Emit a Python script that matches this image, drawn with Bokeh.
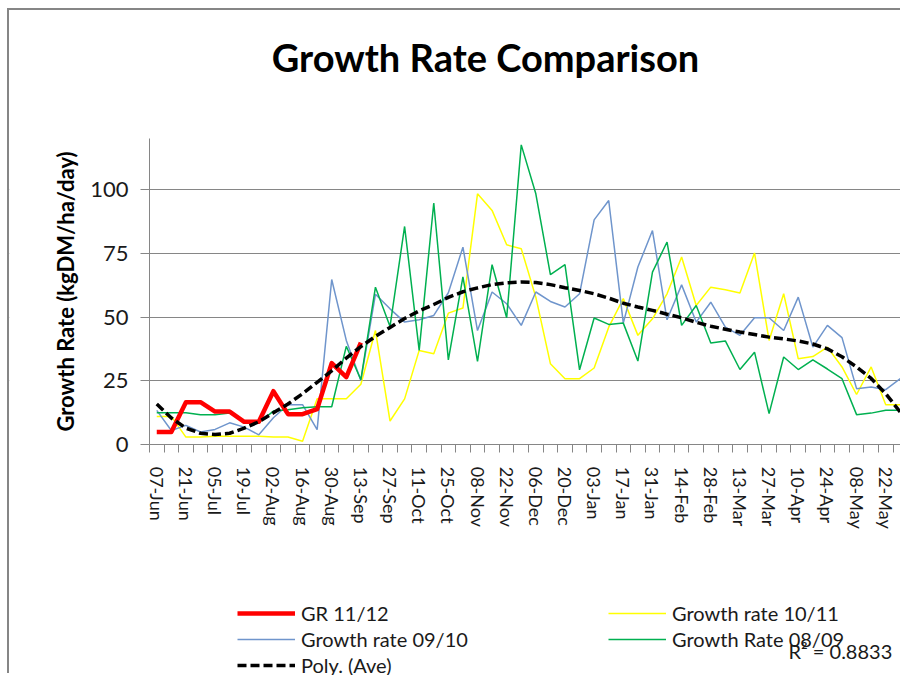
import math
from bokeh.plotting import figure
from bokeh.models import FixedTicker, Legend, LegendItem, Range1d, Label, BoxAnnotation
from bokeh.embed import file_html
from bokeh.resources import INLINE

# Weekly categories (07-Jun ... 29-May), labelled every second week
weeks = list(range(52))
tick_labels = ["07-Jun", "21-Jun", "05-Jul", "19-Jul", "02-Aug", "16-Aug", "30-Aug",
               "13-Sep", "27-Sep", "11-Oct", "25-Oct", "08-Nov", "22-Nov", "06-Dec",
               "20-Dec", "03-Jan", "17-Jan", "31-Jan", "14-Feb", "28-Feb", "13-Mar",
               "27-Mar", "10-Apr", "24-Apr", "08-May", "22-May"]

gr_11_12 = [5, 5, 16.7, 16.7, 13, 13, 9, 9, 21, 12, 12, 14, 32, 26.5, 40]

gr_10_11 = [11.1, 11.1, 3, 3, 3.3, 3.3, 3.3, 3.3, 3, 3, 1.4, 18, 18, 18, 23.7, 44.8,
            9.3, 18, 37, 35.7, 51.6, 53.6, 98.4, 91.9, 78.4, 76.9, 57.9, 31.8, 25.9, 25.9,
            30.1, 46.1, 57.3, 42.9, 49.4, 59.2, 73.6, 54.6, 61.8, 60.8, 59.5, 75.2, 40.9,
            59.2, 33.7, 34.6, 38.3, 30.5, 19.7, 30.5, 15.7, 15.7]

gr_09_10 = [13.5, 5.6, 7.6, 5, 6, 8.6, 6.9, 3.9, 10.6, 15.7, 15.7, 5.9, 64.8, 40.9, 25.2,
            59, 53.3, 48.1, 49, 50.7, 59.6, 77.5, 44.8, 59.9, 55.3, 46.8, 59.9, 56.2, 54,
            59.2, 88.2, 95.8, 47.7, 69.7, 84, 49, 62.7, 48.1, 55.9, 46.1, 42.9, 49.8, 49.8,
            44.8, 57.9, 38.3, 46.8, 42, 22, 22.6, 21.6, 25.9]

gr_08_09 = [12.5, 12.5, 12.5, 11.8, 11.8, 12.4, 9.2, 8.6, 13.2, 13.7, 14.5, 14.9, 14.9,
            38.6, 25.5, 61.8, 46.4, 85.6, 37, 94.8, 33.3, 65.8, 32.7, 70.6, 49.8, 117.6,
            98.4, 66.7, 70.6, 29.4, 49.7, 47.2, 47.7, 32.8, 67.7, 79.5, 46.8, 54.6, 39.9,
            40.7, 29.5, 36.3, 12.2, 34.4, 29.5, 33.3, 29.7, 25.9, 11.8, 12.4, 13.5, 13.5]

poly_ave = [16, 10.5, 6.5, 4.5, 4, 4.5, 6.5, 9, 12.5, 16, 20, 24.5, 29, 34, 38.5, 42.5,
            46, 49.5, 52.5, 55, 57.8, 60, 61.5, 62.8, 63.5, 63.8, 63.6, 62.8, 61.6, 60.5,
            59.2, 57.5, 55.5, 54, 52.7, 51.2, 49.8, 48, 46.5, 45.3, 44.2, 43.2, 42.2, 41.5,
            40.7, 39.5, 37.6, 34.5, 30.5, 26, 20, 12.8]

y_ticks = [0, 25, 50, 75, 100]
title_text = "Growth Rate Comparison"
y_title = "Growth Rate (kgDM/ha/day)"
r_squared = "R\u00b2 = 0.8833"

FONT = "Lato"
GRAY = "#868686"
TXT = "#1a1a1a"

# The frame fills the whole canvas (so nothing is clipped); the axes sit at fixed
# data locations: y axis at the first category boundary, x axis at y = 0.
p = figure(width=893, height=665, output_backend="svg", toolbar_location=None,
           x_range=Range1d(-10.1, 51.15), y_range=Range1d(-90.5, 170.3),
           min_border=0, title=None)
p.margin = (8, 0, 0, 7)
p.styles = {"border-left": "2px solid " + GRAY, "border-top": "2px solid " + GRAY}
p.outline_line_color = None
p.background_fill_color = "white"
p.border_fill_color = "white"

# grid
p.xgrid.visible = False
p.ygrid.ticker = FixedTicker(ticks=y_ticks[1:])
p.ygrid.grid_line_color = GRAY
p.ygrid.grid_line_width = 1
# keep the grid to the plot area (white cover left of the y axis)
p.add_layout(BoxAnnotation(right=-0.5, fill_color="white", fill_alpha=1,
                           line_alpha=0, level="underlay"))

ya = p.yaxis[0]
ya.fixed_location = -0.5
ya.bounds = (0, 120)
ya.ticker = FixedTicker(ticks=y_ticks)
ya.axis_line_color = GRAY
ya.major_tick_line_color = GRAY
ya.major_tick_out = 9
ya.major_tick_in = 0
ya.minor_tick_line_color = None
ya.major_label_text_font = FONT
ya.major_label_text_font_size = "22px"
ya.major_label_text_color = TXT
ya.major_label_standoff = 12

xa = p.xaxis[0]
xa.fixed_location = 0
xa.bounds = (-0.5, 51.15)
xa.ticker = FixedTicker(ticks=[2 * k for k in range(len(tick_labels))],
                        minor_ticks=[w - 0.5 for w in weeks])
xa.major_label_overrides = {2 * k: lab for k, lab in enumerate(tick_labels)}
xa.axis_line_color = GRAY
xa.major_tick_line_color = None
xa.major_tick_out = 0
xa.major_tick_in = 0
xa.minor_tick_line_color = GRAY
xa.minor_tick_out = 8
xa.minor_tick_in = 0
xa.major_label_orientation = "vertical"
xa.major_label_text_font = FONT
xa.major_label_text_font_size = "18px"
xa.major_label_text_color = TXT
xa.major_label_standoff = 14

# series
r_y = p.line(weeks, gr_10_11, line_color="#FFFF00", line_width=1.5)
r_b = p.line(weeks, gr_09_10, line_color="#6F95CC", line_width=1.5)
r_g = p.line(weeks, gr_08_09, line_color="#00B050", line_width=1.5)
r_r = p.line(weeks[:len(gr_11_12)], gr_11_12, line_color="#FF0000", line_width=4.5,
             line_join="round")
r_t = p.line(weeks, poly_ave, line_color="#000000", line_width=3.5, line_dash="9 4")

# legend, two columns filled row by row
leg = Legend(items=[LegendItem(label="GR 11/12", renderers=[r_r]),
                    LegendItem(label="Growth rate 10/11", renderers=[r_y]),
                    LegendItem(label="Growth rate 09/10", renderers=[r_b]),
                    LegendItem(label="Growth Rate 08/09", renderers=[r_g]),
                    LegendItem(label="Poly. (Ave)", renderers=[r_t])],
             orientation="horizontal", ncols=2,
             glyph_width=58, glyph_height=26, label_height=26, label_width=307,
             label_standoff=6, label_text_font=FONT, label_text_font_size="20px",
             label_text_color=TXT, padding=0, margin=0, spacing=0,
             background_fill_alpha=0, border_line_alpha=0, location=(228, -3))
p.add_layout(leg, "center")

# texts (screen units measured from the frame's bottom-left corner)
p.add_layout(Label(x=476, y=619, x_units="screen", y_units="screen", text=title_text,
                   text_font=FONT, text_font_style="bold", text_font_size="38px",
                   text_align="center", text_baseline="alphabetic", text_color="#000000"))
p.add_layout(Label(x=56, y=384, x_units="screen", y_units="screen", text=y_title,
                   angle=math.pi / 2, text_font=FONT, text_font_style="bold",
                   text_font_size="22px", text_align="center", text_baseline="middle",
                   text_color="#000000"))
p.add_layout(Label(x=779, y=25, x_units="screen", y_units="screen", text=r_squared,
                   text_font=FONT, text_font_size="20px", text_baseline="alphabetic",
                   text_color=TXT))

open("out.html", "w").write(file_html(p, INLINE))
